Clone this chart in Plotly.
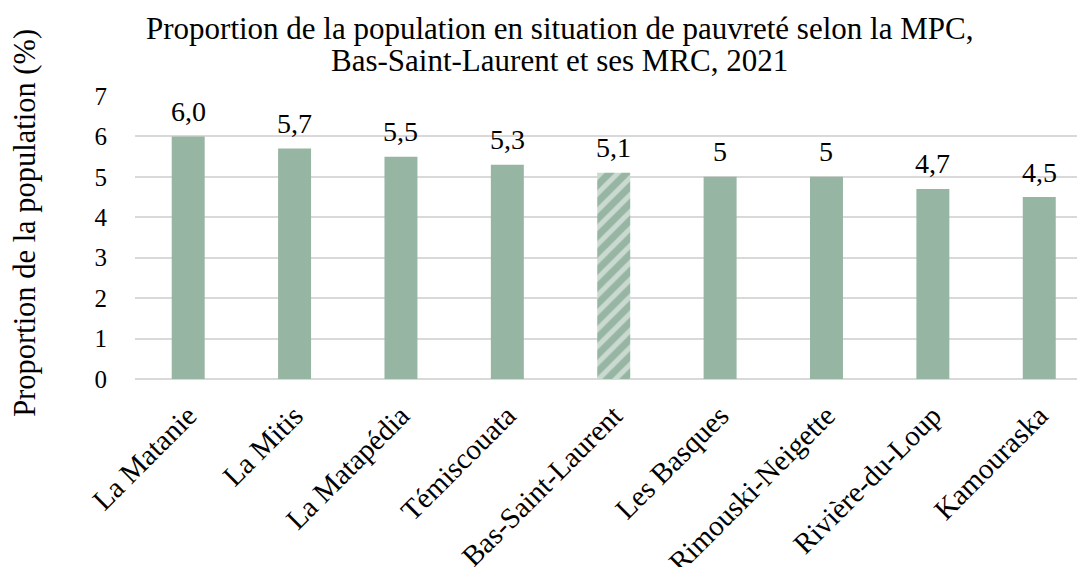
import plotly.graph_objects as go

categories = ["La Matanie", "La Mitis", "La Matapédia", "Témiscouata", "Bas-Saint-Laurent",
              "Les Basques", "Rimouski-Neigette", "Rivière-du-Loup", "Kamouraska"]
values = [6.0, 5.7, 5.5, 5.3, 5.1, 5.0, 5.0, 4.7, 4.5]
labels = ["6,0", "5,7", "5,5", "5,3", "5,1", "5", "5", "4,7", "4,5"]

green = "#97b5a3"
font = "Liberation Serif, Times New Roman, serif"

# la region entiere est hachuree
shapes = ["/" if c == "Bas-Saint-Laurent" else "" for c in categories]

fig = go.Figure()
fig.add_trace(go.Bar(
    x=categories,
    y=values,
    width=0.31,
    marker=dict(
        color=green,
        line=dict(width=0),
        pattern=dict(shape=shapes, fgcolor="white", bgcolor=green, size=12, solidity=0.42),
    ),
))

# etiquettes de donnees un peu au-dessus des barres
for cat, val, lab in zip(categories, values, labels):
    fig.add_annotation(
        x=cat, y=val, text=lab, showarrow=False,
        yanchor="middle", yshift=25,
        font=dict(size=28, family=font, color="black"),
    )

# la page ajoute une marge de 8px autour du graphique
fig.update_layout(
    width=1085,
    height=567,
    margin=dict(l=127, r=8, t=88, b=196),
    paper_bgcolor="white",
    plot_bgcolor="white",
    font=dict(family=font, color="black"),
    showlegend=False,
)

# titre sur deux lignes, interligne serre comme dans Excel
fig.add_annotation(
    text="Proportion de la population en situation de pauvreté selon la MPC,",
    xref="paper", yref="paper", x=0.447, y=1.0, yshift=68, xanchor="center", yanchor="middle",
    showarrow=False, font=dict(size=31, family=font, color="black"),
)
fig.add_annotation(
    text="Bas-Saint-Laurent et ses MRC, 2021",
    xref="paper", yref="paper", x=0.447, y=1.0, yshift=36, xanchor="center", yanchor="middle",
    showarrow=False, font=dict(size=31, family=font, color="black"),
)

fig.update_xaxes(
    range=[-0.5, 8.43],
    tickangle=-45,
    tickfont=dict(size=29, family=font, color="black"),
    showgrid=False,
    showline=False,
    ticks="",
    ticklabelstandoff=13,
    automargin=False,
)
fig.update_yaxes(
    range=[0, 7],
    dtick=1,
    tickfont=dict(size=25, family=font, color="black"),
    showgrid=True,
    gridcolor="#d9d9d9",
    gridwidth=2,
    zeroline=True,
    zerolinecolor="#d9d9d9",
    zerolinewidth=2,
    ticks="",
    ticklabelstandoff=27,
    automargin=False,
)

fig.add_annotation(
    text="Proportion de la population (%)",
    xref="paper", yref="paper",
    x=-0.116, y=0.551, textangle=-90,
    xanchor="center", yanchor="middle",
    showarrow=False,
    font=dict(size=30.5, family=font, color="black"),
)

fig.write_html("out.html")
